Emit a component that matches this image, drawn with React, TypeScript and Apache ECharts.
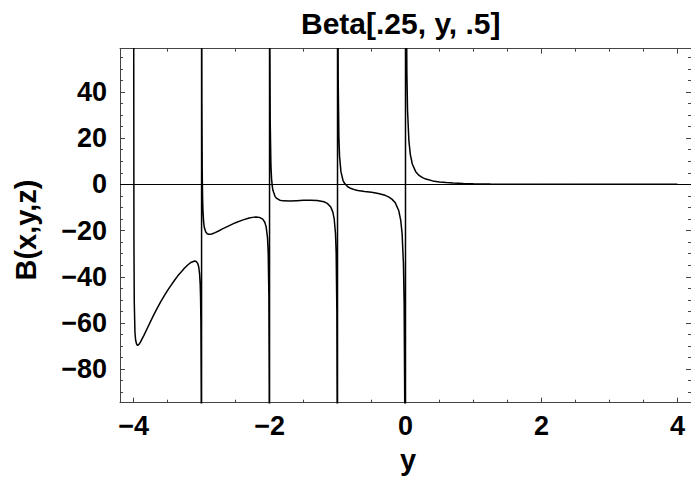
import React, { useEffect, useRef } from "react";
import * as echarts from "echarts";

// Branch between the poles y = -4 and y = -3
const branchA_y = [-3.9995, -3.998, -3.995, -3.99, -3.98, -3.97, -3.955, -3.94, -3.92, -3.9, -3.85, -3.8, -3.75, -3.7, -3.65, -3.6, -3.55, -3.5, -3.45, -3.4, -3.35, -3.3, -3.25, -3.2, -3.15, -3.1, -3.08, -3.06, -3.05, -3.04, -3.03, -3.02, -3.015, -3.01, -3.005, -3.002, -3.0005];
const branchA_b = [470, 58, -24, -51, -64, -67.5, -69.2, -69.7, -69.2, -68.3, -65.5, -62.4, -59.3, -56.3, -53.5, -50.8, -48.3, -45.9, -43.7, -41.6, -39.6, -37.9, -36.2, -34.8, -33.7, -33.2, -33.4, -34.1, -34.8, -36.1, -38.5, -43.4, -48.5, -59, -90, -185, -650];

// Branch between y = -3 and y = -2
const branchB_y = [-2.9995, -2.997, -2.995, -2.99, -2.985, -2.98, -2.97, -2.96, -2.94, -2.92, -2.9, -2.88, -2.85, -2.8, -2.75, -2.7, -2.6, -2.5, -2.4, -2.3, -2.25, -2.2, -2.15, -2.1, -2.07, -2.05, -2.03, -2.02, -2.01, -2.005, -2.002, -2.0005];
const branchB_b = [598, 77, 35.4, 4.3, -6, -11.1, -16.2, -18.6, -20.5, -21.3, -21.6, -21.6, -21.5, -20.9, -20.2, -19.4, -18.0, -16.6, -15.5, -14.6, -14.3, -14.1, -14.3, -15.05, -16.4, -18.4, -23.2, -29.4, -48, -85.5, -198, -754];

// Branch between y = -2 and y = -1
const branchC_y = [-1.9995, -1.997, -1.995, -1.99, -1.98, -1.97, -1.96, -1.95, -1.92, -1.9, -1.85, -1.8, -1.7, -1.6, -1.5, -1.4, -1.3, -1.2, -1.15, -1.1, -1.07, -1.05, -1.03, -1.02, -1.01, -1.005, -1.002, -1.0005];
const branchC_b = [740, 115, 64.8, 27, 8.3, 2.3, -0.75, -2.6, -5.2, -5.93, -6.85, -7.15, -7.24, -7.08, -6.93, -6.85, -6.97, -7.55, -8.24, -9.8, -11.9, -14.7, -21.3, -29.6, -54.6, -104.7, -254, -1004];

// Branch between y = -1 and y = 0
const branchD_y = [-0.9995, -0.998, -0.995, -0.99, -0.98, -0.97, -0.95, -0.92, -0.9, -0.85, -0.8, -0.75, -0.7, -0.6, -0.5, -0.4, -0.3, -0.25, -0.2, -0.15, -0.1, -0.07, -0.05, -0.03, -0.02, -0.01, -0.005, -0.0005];
const branchD_b = [996, 245, 95.5, 45.3, 20.4, 12.1, 5.5, 1.75, 0.56, -1.05, -1.83, -2.3, -2.62, -3.07, -3.47, -3.96, -4.76, -5.42, -6.4, -8.0, -11.3, -15.6, -21.3, -34.6, -51.4, -101, -201, -2000];

// Branch right of the pole at y = 0
const branchE_y = [0.0005, 0.005, 0.01, 0.02, 0.03, 0.05, 0.07, 0.1, 0.15, 0.2, 0.25, 0.3, 0.4, 0.5, 0.6, 0.7, 0.85, 1.0, 1.25, 1.5, 2, 2.5, 3, 3.5, 4];
const branchE_b = [2000, 199, 98.7, 48.7, 32.1, 18.8, 13.1, 8.8, 5.5, 3.87, 2.9, 2.27, 1.49, 1.05, 0.76, 0.57, 0.38, 0.27, 0.15, 0.09, 0.033, 0.013, 0.0055, 0.0022, 0.001];

const xMajorTicks = [-4, -2, 0, 2, 4];
const xMinorTicks = [-3.5, -3, -2.5, -1.5, -1, -0.5, 0.5, 1, 1.5, 2.5, 3, 3.5];
const yMajorTicks = [-80, -60, -40, -20, 0, 20, 40];
const yMinorTicks = [-90, -85, -75, -70, -65, -55, -50, -45, -35, -30, -25, -15, -10, -5, 5, 10, 15, 25, 30, 35, 45, 50, 55];

const titleText = "Beta[.25, y, .5]";
const xName = "y";
const yName = "B(x,y,z)";

const FONT = "'Liberation Sans', Arial, Helvetica, sans-serif";
const FRAME = "#444";

const branches: [number[], number[]][] = [
  [branchA_y, branchA_b],
  [branchB_y, branchB_b],
  [branchC_y, branchC_b],
  [branchD_y, branchD_b],
  [branchE_y, branchE_b],
];

const fmt = (v: number) => String(v).replace("-", "\u2212");

function xAxisDef(position: "top" | "bottom", ticks: number[], len: number, showLine: boolean, labels: boolean) {
  return {
    type: "value",
    position,
    min: -4.2,
    max: 4.2,
    splitLine: { show: false },
    axisLine: { show: showLine, onZero: false, lineStyle: { color: FRAME, width: 1 } },
    axisTick: { show: true, inside: true, length: len, customValues: ticks, lineStyle: { color: FRAME, width: 1 } },
    axisLabel: labels
      ? { show: true, customValues: ticks, formatter: fmt, margin: 10, color: "#000", fontFamily: FONT, fontWeight: "bold", fontSize: 27 }
      : { show: false },
  };
}

function yAxisDef(position: "left" | "right", ticks: number[], len: number, showLine: boolean, labels: boolean) {
  return {
    type: "value",
    position,
    min: -94.5,
    max: 58.7,
    splitLine: { show: false },
    axisLine: { show: showLine, onZero: false, lineStyle: { color: FRAME, width: 1 } },
    axisTick: { show: true, inside: true, length: len, customValues: ticks, lineStyle: { color: FRAME, width: 1 } },
    axisLabel: labels
      ? { show: true, customValues: ticks, formatter: fmt, margin: 13, color: "#000", fontFamily: FONT, fontWeight: "bold", fontSize: 27 }
      : { show: false },
  };
}

export default function App() {
  const ref = useRef<HTMLDivElement>(null);
  useEffect(() => {
    if (!ref.current) return;
    const chart = echarts.init(ref.current, null, { renderer: "svg" });
    const data: number[][] = [];
    branches.forEach(([ys, bs]) => ys.forEach((y, i) => data.push([y, bs[i]])));
    chart.setOption({
      animation: false,
      backgroundColor: "#fff",
      title: {
        text: titleText,
        left: 301,
        top: 8,
        padding: 0,
        textStyle: { fontFamily: FONT, fontWeight: "bold", fontSize: 30, color: "#000" },
      },
      grid: { left: 120, top: 48.7, right: -1.9, bottom: 78.3, containLabel: false },
      xAxis: [
        xAxisDef("bottom", xMajorTicks, 5, true, true),
        xAxisDef("bottom", xMinorTicks, 3, false, false),
        xAxisDef("top", xMajorTicks, 5, true, false),
        xAxisDef("top", xMinorTicks, 3, false, false),
      ],
      yAxis: [
        yAxisDef("left", yMajorTicks, 5, true, true),
        yAxisDef("left", yMinorTicks, 3, false, false),
        yAxisDef("right", yMajorTicks, 5, true, false),
        yAxisDef("right", yMinorTicks, 3, false, false),
      ],
      graphic: [
        {
          type: "text",
          x: 26,
          y: 230,
          rotation: Math.PI / 2,
          style: { text: yName, fontFamily: FONT, fontWeight: "bold", fontSize: 29, fill: "#000", align: "center", verticalAlign: "middle" },
        },
        {
          type: "text",
          x: 408,
          y: 460,
          style: { text: xName, fontFamily: FONT, fontWeight: "bold", fontSize: 29, fill: "#000", align: "center", verticalAlign: "middle" },
        },
      ],
      series: [
        {
          type: "line",
          xAxisIndex: 0,
          yAxisIndex: 0,
          data,
          showSymbol: false,
          smooth: false,
          clip: true,
          lineStyle: { color: "#000", width: 1.5 },
          markLine: {
            silent: true,
            symbol: ["none", "none"],
            label: { show: false },
            lineStyle: { color: "#000", width: 1, type: "solid" },
            data: [{ yAxis: 0 }, { xAxis: 0 }],
          },
        },
      ],
    });
    return () => chart.dispose();
  }, []);
  return (
    <div
      ref={ref}
      style={{ position: "fixed", left: 0, top: 0, width: 691, height: 481, background: "#fff" }}
    />
  );
}
